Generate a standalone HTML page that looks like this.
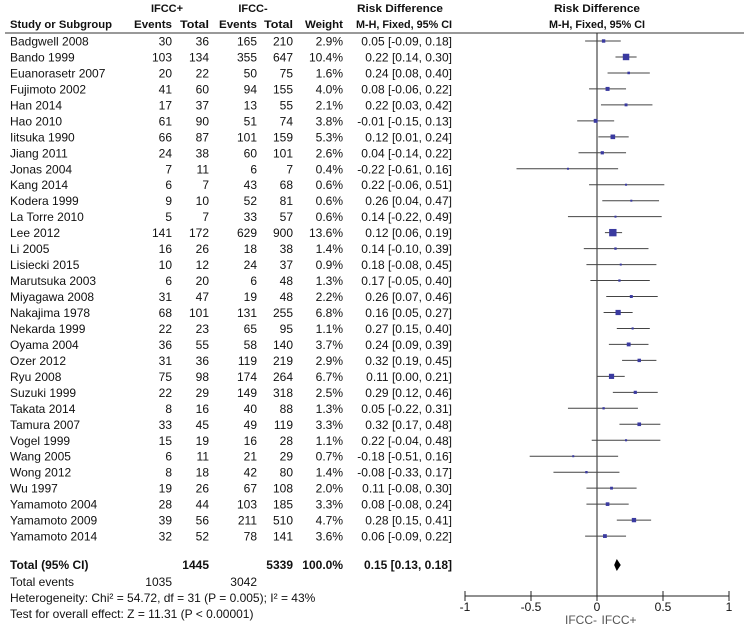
<!DOCTYPE html>
<html><head><meta charset="utf-8"><style>
body{margin:0;background:#fff;width:744px;height:638px;overflow:hidden}
svg text{font-family:"Liberation Sans",Arial,sans-serif;font-size:12px;fill:#111}
svg text.h{font-size:11px}
</style></head><body>
<svg id="c" width="744" height="638"></svg>
<script>
const studies=["Badgwell 2008","Bando 1999","Euanorasetr 2007","Fujimoto 2002","Han 2014","Hao 2010","Iitsuka 1990","Jiang 2011","Jonas 2004","Kang 2014","Kodera 1999","La Torre 2010","Lee 2012","Li 2005","Lisiecki 2015","Marutsuka 2003","Miyagawa 2008","Nakajima 1978","Nekarda 1999","Oyama 2004","Ozer 2012","Ryu 2008","Suzuki 1999","Takata 2014","Tamura 2007","Vogel 1999","Wang 2005","Wong 2012","Wu 1997","Yamamoto 2004","Yamamoto 2009","Yamamoto 2014"];
const ev1=[30,103,20,41,17,61,66,24,7,6,9,5,141,16,10,6,31,68,22,36,31,75,22,8,33,15,6,8,19,28,39,32];
const tot1=[36,134,22,60,37,90,87,38,11,7,10,7,172,26,12,20,47,101,23,55,36,98,29,16,45,19,11,18,26,44,56,52];
const ev2=[165,355,50,94,13,51,101,60,6,43,52,33,629,18,24,6,19,131,65,58,119,174,149,40,49,16,21,42,67,103,211,78];
const tot2=[210,647,75,155,55,74,159,101,7,68,81,57,900,38,37,48,48,255,95,140,219,264,318,88,119,28,29,80,108,185,510,141];
const weight=[2.9,10.4,1.6,4.0,2.1,3.8,5.3,2.6,0.4,0.6,0.6,0.6,13.6,1.4,0.9,1.3,2.2,6.8,1.1,3.7,2.9,6.7,2.5,1.3,3.3,1.1,0.7,1.4,2.0,3.3,4.7,3.6];
const rd=[0.05,0.22,0.24,0.08,0.22,-0.01,0.12,0.04,-0.22,0.22,0.26,0.14,0.12,0.14,0.18,0.17,0.26,0.16,0.27,0.24,0.32,0.11,0.29,0.05,0.32,0.22,-0.18,-0.08,0.11,0.08,0.28,0.06];
const lo=[-0.09,0.14,0.08,-0.06,0.03,-0.15,0.01,-0.14,-0.61,-0.06,0.04,-0.22,0.06,-0.10,-0.08,-0.05,0.07,0.05,0.15,0.09,0.19,0.00,0.12,-0.22,0.17,-0.04,-0.51,-0.33,-0.08,-0.08,0.15,-0.09];
const hi=[0.18,0.30,0.40,0.22,0.42,0.13,0.24,0.22,0.16,0.51,0.47,0.49,0.19,0.39,0.45,0.40,0.46,0.27,0.40,0.39,0.45,0.21,0.46,0.31,0.48,0.48,0.16,0.17,0.30,0.24,0.41,0.22];
const total=[0.15,0.13,0.18];
const ticks=[-1,-0.5,0,0.5,1];
const tickLabels=["-1","-0.5","0","0.5","1"];
const NS="http://www.w3.org/2000/svg";
const svg=document.getElementById('c');
const X=v=>597+v*132;
const rowY=i=>41+i*15.97;
const C={ev1:172,tot1:209,ev2:257,tot2:293,w:343,rd:452};
function el(t,a,txt){const e=document.createElementNS(NS,t);for(const k in a)e.setAttribute(k,a[k]);if(txt!==undefined)e.textContent=txt;svg.appendChild(e);return e;}
function tx(x,y,s,anchor,bold,name){const e=el('text',{x:x,y:y,'text-anchor':anchor||'start','font-weight':bold?'bold':'normal'},s);

return e;}
function hd(x,y,s,anchor,name,len){const e=tx(x,y,s,anchor,true,name);e.setAttribute('class','h');if(len){e.setAttribute('textLength',len);e.setAttribute('lengthAdjust','spacingAndGlyphs');}return e;}
const f2=v=>(v<0?'-':'')+Math.abs(v).toFixed(2);
hd(167,12,'IFCC+','middle','header-ifcc-pos');
hd(253,12,'IFCC-','middle','header-ifcc-neg');
hd(400,12,'Risk Difference','middle','header-rd',86);
hd(597,12,'Risk Difference','middle','header-rd-plot',86);
hd(10,28,'Study or Subgroup','start','header-study',102);
hd(C.ev1,28,'Events','end','header-events1',38);
hd(C.tot1,28,'Total','end','header-total1',29);
hd(C.ev2,28,'Events','end','header-events2',38);
hd(C.tot2,28,'Total','end','header-total2',29);
hd(C.w,28,'Weight','end','header-weight',38);
hd(C.rd,28,'M-H, Fixed, 95% CI','end','header-mh',96);
hd(597,28,'M-H, Fixed, 95% CI','middle','header-mh-plot',96);
let hl=el('line',{x1:5,y1:33,x2:744,y2:33,stroke:'#333','stroke-width':1});


let nl=el('line',{x1:X(0),y1:33,x2:X(0),y2:596,stroke:'#222','stroke-width':1});


studies.forEach((s,i)=>{
 const y=rowY(i),ty=y+4.5;
 tx(10,ty,s,'start',false,'study-name');
 tx(C.ev1,ty,ev1[i],'end',false,'events1');
 tx(C.tot1,ty,tot1[i],'end',false,'total1');
 tx(C.ev2,ty,ev2[i],'end',false,'events2');
 tx(C.tot2,ty,tot2[i],'end',false,'total2');
 tx(C.w,ty,weight[i].toFixed(1)+'%','end',false,'weight');
 tx(C.rd,ty,f2(rd[i])+' ['+f2(lo[i])+', '+f2(hi[i])+']','end',false,'risk-difference');
 const l=el('line',{x1:X(lo[i]),y1:y,x2:X(hi[i]),y2:y,stroke:'#444','stroke-width':1});
 
 
 const sz=Math.max(2,Math.sqrt(weight[i])*2.0);
 const r=el('rect',{x:X(rd[i])-sz/2,y:y-sz/2,width:sz,height:sz,fill:'#3a3aa0'});
 
 
});
const ty=569;
tx(10,ty,'Total (95% CI)','start',true,'total-label');
tx(C.tot1,ty,'1445','end',true,'total1-sum');
tx(C.tot2,ty,'5339','end',true,'total2-sum');
tx(C.w,ty,'100.0%','end',true,'weight-sum');
tx(C.rd,ty,total[0].toFixed(2)+' ['+total[1].toFixed(2)+', '+total[2].toFixed(2)+']','end',true,'total-rd');
const d=el('polygon',{points:`${X(total[1])},565 ${X(total[0])},559 ${X(total[2])},565 ${X(total[0])},571`,fill:'#000'});


tx(10,586,'Total events','start',false,'total-events-label');
tx(C.ev1,586,'1035','end',false,'total-events1');
tx(C.ev2,586,'3042','end',false,'total-events2');
tx(10,602,'Heterogeneity: Chi² = 54.72, df = 31 (P = 0.005); I² = 43%','start',false,'heterogeneity');
tx(10,618,'Test for overall effect: Z = 11.31 (P < 0.00001)','start',false,'overall-effect');
const ax=el('line',{x1:X(-1),y1:596,x2:X(1),y2:596,stroke:'#222','stroke-width':1});


ticks.forEach((t,i)=>{
 const k=el('line',{x1:X(t),y1:591,x2:X(t),y2:601,stroke:'#222','stroke-width':1});
 
 
 tx(X(t),611,tickLabels[i],'middle',false,'x-tick-label');
});
const a=tx(581,624,'IFCC-','middle',false,'favours-neg');a.style.fill='#555';
const b=tx(619,624,'IFCC+','middle',false,'favours-pos');b.style.fill='#555';
</script>
</body></html>
